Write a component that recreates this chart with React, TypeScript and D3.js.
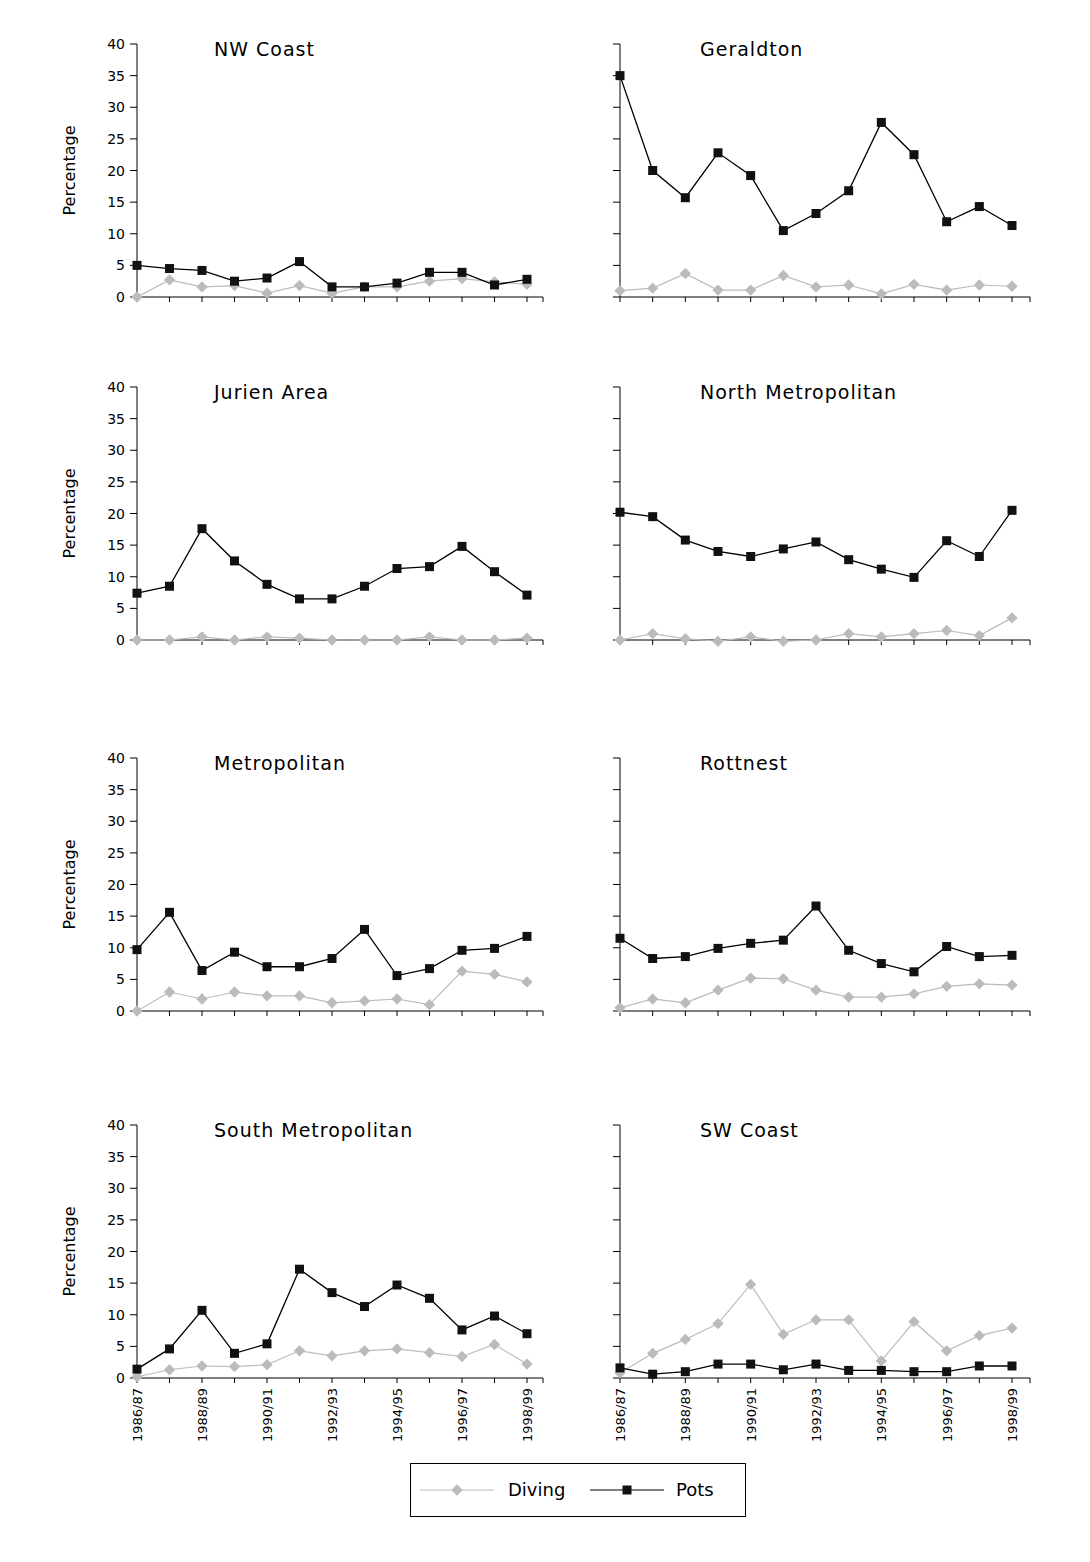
import * as d3 from 'd3'

const years = ['1986/87','1987/88','1988/89','1989/90','1990/91','1991/92','1992/93','1993/94','1994/95','1995/96','1996/97','1997/98','1998/99']
const regions = ['NW Coast','Geraldton','Jurien Area','North Metropolitan','Metropolitan','Rottnest','South Metropolitan','SW Coast']
const pots = [
  [5,4.5,4.2,2.5,3,5.6,1.6,1.6,2.2,3.9,3.9,1.9,2.8],
  [35,20,15.7,22.8,19.2,10.5,13.2,16.8,27.6,22.5,11.9,14.3,11.3],
  [7.4,8.5,17.6,12.5,8.8,6.5,6.5,8.5,11.3,11.6,14.8,10.8,7.1],
  [20.2,19.5,15.8,14,13.2,14.4,15.5,12.7,11.2,9.9,15.7,13.2,20.5],
  [9.7,15.6,6.4,9.3,7,7,8.3,12.9,5.6,6.7,9.6,9.9,11.8],
  [11.5,8.3,8.6,9.9,10.7,11.2,16.6,9.6,7.5,6.2,10.2,8.6,8.8],
  [1.4,4.6,10.7,3.9,5.4,17.2,13.5,11.3,14.7,12.6,7.6,9.8,7],
  [1.6,0.6,1,2.2,2.2,1.3,2.2,1.2,1.2,1,1,1.9,1.9],
]
const diving = [
  [0,2.7,1.6,1.8,0.6,1.8,0.6,1.6,1.6,2.5,2.9,2.4,2.0],
  [1,1.4,3.7,1.1,1.1,3.4,1.6,1.9,0.5,2.0,1.1,1.9,1.7],
  [0,0,0.5,0,0.5,0.3,0,0,0,0.5,0,0,0.3],
  [0,1,0.2,-0.2,0.5,-0.2,0,1,0.5,1,1.5,0.7,3.5],
  [0,3,1.9,3,2.4,2.4,1.3,1.6,1.9,1,6.3,5.8,4.6],
  [0.5,1.9,1.3,3.3,5.2,5.1,3.3,2.2,2.2,2.7,3.9,4.3,4.1],
  [0.2,1.3,1.9,1.8,2.1,4.3,3.5,4.3,4.6,4,3.4,5.3,2.2],
  [0.8,3.9,6.1,8.6,14.8,6.9,9.2,9.2,2.7,8.9,4.3,6.7,7.9],
]
const yTicks = [0,5,10,15,20,25,30,35,40]
const rowZero = [297, 640, 1011, 1378]
const font = 'Verdana, "DejaVu Sans", sans-serif'

function Panel({ i }: { i: number }) {
  const left = i % 2 === 0
  const row = Math.floor(i / 2)
  const y0 = rowZero[row]
  const x0 = left ? 137 : 620
  const x = d3.scalePoint<string>().domain(years).range([x0, x0 + (left ? 390 : 392)])
  const y = d3.scaleLinear().domain([0, 40]).range([y0, y0 - 253])
  const line = d3.line<number>().x((_, k) => x(years[k])!).y(d => y(d))
  const axisEnd = left ? 543 : 1030
  const isLast = row === 3
  return (
    <g>
      <line x1={x0} x2={x0} y1={y(0)} y2={y(40)} stroke="#000" />
      <line x1={x0} x2={axisEnd} y1={y(0)} y2={y(0)} stroke="#000" />
      {yTicks.map(t => (
        <g key={t}>
          <line x1={x0 - 7} x2={x0} y1={y(t)} y2={y(t)} stroke="#000" />
          {left && <text x={x0 - 12} y={y(t) + 5} textAnchor="end" fontSize={14} fontFamily={font}>{t}</text>}
        </g>
      ))}
      {years.map((yr, k) => (
        <g key={yr}>
          <line x1={x(yr)} x2={x(yr)} y1={y(0)} y2={y(0) + 5} stroke="#000" />
          {isLast && k % 2 === 0 && (
            <text transform={`translate(${x(yr)! + 5},${y(0) + 10}) rotate(-90)`} textAnchor="end" fontSize={13} fontFamily={font}>{yr}</text>
          )}
        </g>
      ))}
      <line x1={axisEnd} x2={axisEnd} y1={y(0)} y2={y(0) + 5} stroke="#000" />
      {left && (
        <text transform={`translate(75,${y(20)}) rotate(-90)`} textAnchor="middle" fontSize={16} fontFamily={font}>Percentage</text>
      )}
      <text x={left ? 214 : 700} y={y(40) + 12} fontSize={19} fontFamily={font} letterSpacing={1}>{regions[i]}</text>
      <path d={line(diving[i])!} fill="none" stroke="#bbb" strokeWidth={1.2} />
      {diving[i].map((d, k) => (
        <rect key={k} x={-4} y={-4} width={8} height={8} fill="#bbb"
          transform={`translate(${x(years[k])},${y(d)}) rotate(45)`} />
      ))}
      <path d={line(pots[i])!} fill="none" stroke="#000" strokeWidth={1.3} />
      {pots[i].map((d, k) => (
        <rect key={k} x={x(years[k])! - 4.5} y={y(d) - 4.5} width={9} height={9} fill="#111" />
      ))}
    </g>
  )
}

export default function App() {
  return (
    <svg width={1090} height={1562} style={{ display: 'block', margin: -8 }}>
      <rect x={0.5} y={0.5} width={1088} height={1560} fill="#fff" stroke="#000" />
      {regions.map((_, i) => <Panel key={i} i={i} />)}
      <rect x={410.5} y={1463.5} width={335} height={53} fill="#fff" stroke="#000" />
      <line x1={420} x2={494} y1={1490} y2={1490} stroke="#bbb" />
      <rect x={-4} y={-4} width={8} height={8} fill="#bbb" transform="translate(457,1490) rotate(45)" />
      <text x={508} y={1496} fontSize={18} fontFamily={font}>Diving</text>
      <line x1={590} x2={664} y1={1490} y2={1490} stroke="#000" />
      <rect x={622.5} y={1485.5} width={9} height={9} fill="#111" />
      <text x={676} y={1496} fontSize={18} fontFamily={font}>Pots</text>
    </svg>
  )
}
